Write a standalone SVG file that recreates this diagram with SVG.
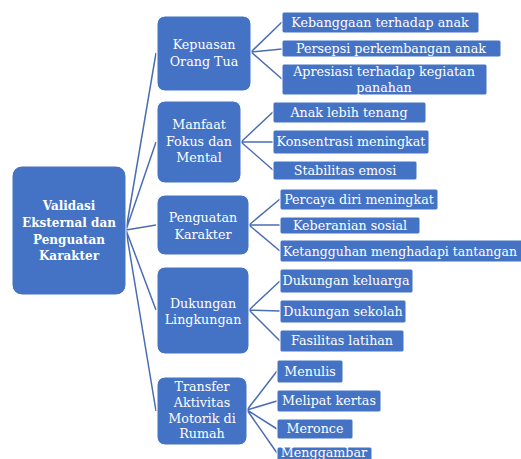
<svg xmlns="http://www.w3.org/2000/svg" width="521" height="459" viewBox="0 0 521 459">
<style>
.n{fill:#4472c4;stroke:#ffffff;stroke-width:1}
.c{stroke:#4a6db3;stroke-width:1.5;fill:none}
text{font-family:"DejaVu Serif","Liberation Serif",serif;fill:#ffffff;text-anchor:middle;dominant-baseline:central}
.t1{font-size:12.7px}
.t2{font-size:12.7px}
.t0{font-size:12px;font-weight:bold}
</style>
<rect width="521" height="459" fill="#ffffff"/>
<g id="connectors">
<path class="c" d="M126 230L156 53M126 230L156 142M126 230L156 225M126 230L156 310M126 230L156 411"/>
<path class="c" d="M251 52L282 22M251 52L282 49M251 52L282 79"/>
<path class="c" d="M241 142L273 112M241 142L273 142M241 142L273 170"/>
<path class="c" d="M249 225L280 199M249 225L280 225M249 225L280 251"/>
<path class="c" d="M249 310L280 281M249 310L280 311M249 310L280 341"/>
<path class="c" d="M247 410L277 371M247 410L277 401M247 410L277 429M247 410L277 453"/>
</g>
<g id="root"><rect class="n" x="12" y="166" width="114" height="129" rx="10"/>
<text class="t0"><tspan x="69" y="206">Validasi</tspan><tspan x="69" y="223">Eksternal dan</tspan><tspan x="69" y="240">Penguatan</tspan><tspan x="69" y="256">Karakter</tspan></text></g>
<g id="kepuasan"><rect class="n" x="157" y="16" width="94" height="75" rx="8"/>
<text class="t1"><tspan x="204" y="44">Kepuasan</tspan><tspan x="204" y="61">Orang Tua</tspan></text></g>
<g id="manfaat"><rect class="n" x="157" y="101" width="84" height="82" rx="8"/>
<text class="t1"><tspan x="199" y="124">Manfaat</tspan><tspan x="199" y="141">Fokus dan</tspan><tspan x="199" y="157">Mental</tspan></text></g>
<g id="penguatan"><rect class="n" x="157" y="195" width="92" height="60" rx="8"/>
<text class="t1"><tspan x="203" y="217">Penguatan</tspan><tspan x="203" y="234">Karakter</tspan></text></g>
<g id="dukungan"><rect class="n" x="157" y="267" width="92" height="87" rx="8"/>
<text class="t1"><tspan x="203" y="303">Dukungan</tspan><tspan x="203" y="319">Lingkungan</tspan></text></g>
<g id="transfer"><rect class="n" x="157" y="377" width="90" height="68" rx="8"/>
<text class="t1"><tspan x="202" y="386">Transfer</tspan><tspan x="202" y="402">Aktivitas</tspan><tspan x="202" y="418">Motorik di</tspan><tspan x="202" y="433">Rumah</tspan></text></g>
<g id="kebanggaan"><rect class="n" x="282" y="12" width="197" height="21" rx="2"/><text class="t2" x="380" y="22">Kebanggaan terhadap anak</text></g>
<g id="persepsi"><rect class="n" x="282" y="40" width="219" height="17" rx="2"/><text class="t2" x="391" y="48">Persepsi perkembangan anak</text></g>
<g id="apresiasi"><rect class="n" x="282" y="64" width="205" height="31" rx="2"/><text class="t2"><tspan x="384" y="71">Apresiasi terhadap kegiatan</tspan><tspan x="384" y="87">panahan</tspan></text></g>
<g id="tenang"><rect class="n" x="273" y="102" width="153" height="21" rx="2"/><text class="t2" x="349" y="112">Anak lebih tenang</text></g>
<g id="konsentrasi"><rect class="n" x="273" y="130" width="156" height="24" rx="2"/><text class="t2" x="351" y="141">Konsentrasi meningkat</text></g>
<g id="stabilitas"><rect class="n" x="273" y="161" width="144" height="19" rx="2"/><text class="t2" x="345" y="170">Stabilitas emosi</text></g>
<g id="percaya"><rect class="n" x="280" y="189" width="158" height="21" rx="2"/><text class="t2" x="359" y="199">Percaya diri meningkat</text></g>
<g id="keberanian"><rect class="n" x="280" y="217" width="140" height="17" rx="2"/><text class="t2" x="350" y="225">Keberanian sosial</text></g>
<g id="ketangguhan"><rect class="n" x="280" y="240" width="245" height="22" rx="2"/><text class="t2" x="400" y="251" textLength="234" lengthAdjust="spacingAndGlyphs">Ketangguhan menghadapi tantangan</text></g>
<g id="keluarga"><rect class="n" x="280" y="269" width="133" height="24" rx="2"/><text class="t2" x="346" y="280">Dukungan keluarga</text></g>
<g id="sekolah"><rect class="n" x="280" y="300" width="126" height="23" rx="2"/><text class="t2" x="343" y="311">Dukungan sekolah</text></g>
<g id="fasilitas"><rect class="n" x="280" y="330" width="124" height="22" rx="2"/><text class="t2" x="342" y="340">Fasilitas latihan</text></g>
<g id="menulis"><rect class="n" x="277" y="360" width="66" height="23" rx="2"/><text class="t2" x="310" y="371">Menulis</text></g>
<g id="melipat"><rect class="n" x="277" y="390" width="104" height="22" rx="2"/><text class="t2" x="329" y="400">Melipat kertas</text></g>
<g id="meronce"><rect class="n" x="277" y="419" width="76" height="20" rx="2"/><text class="t2" x="315" y="428">Meronce</text></g>
<g id="menggambar"><rect class="n" x="277" y="447" width="95" height="20" rx="2"/><text class="t2" x="324" y="452">Menggambar</text></g>
</svg>
